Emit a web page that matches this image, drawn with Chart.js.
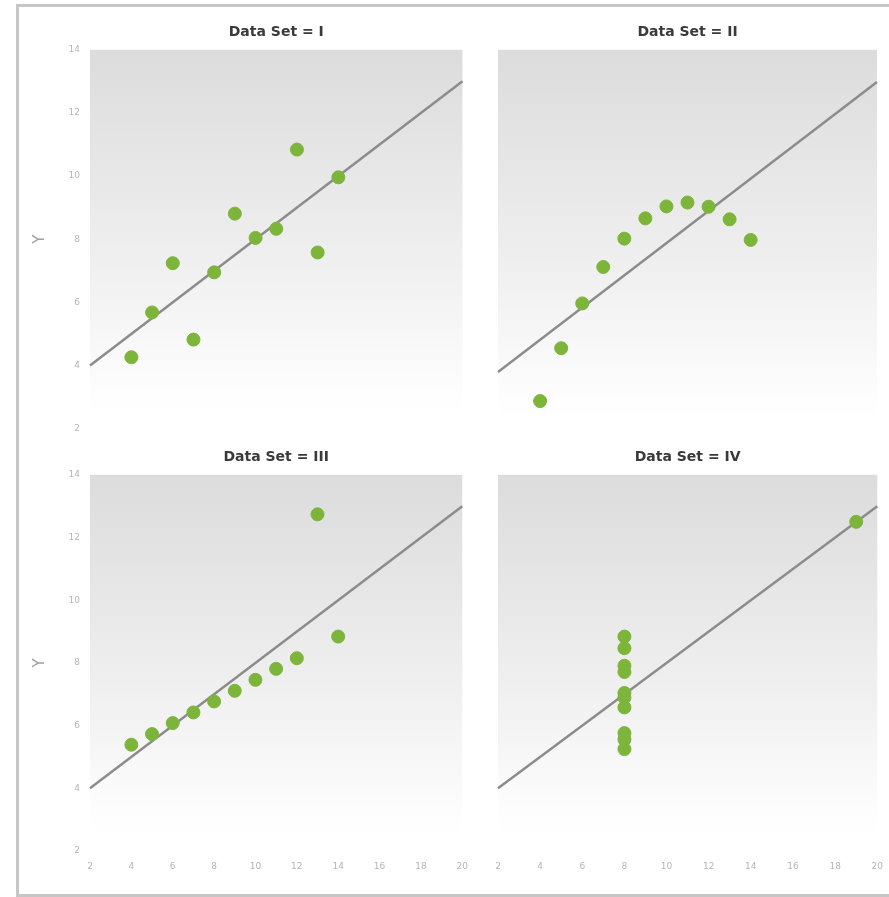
<!DOCTYPE html>
<html lang="en">
<head>
<meta charset="utf-8">
<title>Anscombe's Quartet</title>
<script src="https://cdn.jsdelivr.net/npm/chart.js"></script>
<style>
  html, body { margin: 0; padding: 0; background: #fff; overflow: hidden; }
  #page { position: relative; width: 889px; height: 897px; }
  #frame { position: absolute; left: 16px; top: 4px; width: 900px; height: 887px; border: 3px solid #c6c6c6; }
  .panel { position: absolute; }
</style>
</head>
<body>
<div id="page">
  <div id="frame"></div>
  <div class="panel" style="left:20px;top:15px;width:450px;height:429px"><canvas id="c1"></canvas></div>
  <div class="panel" style="left:475px;top:15px;width:410px;height:429px"><canvas id="c2"></canvas></div>
  <div class="panel" style="left:20px;top:440px;width:458px;height:445px"><canvas id="c3"></canvas></div>
  <div class="panel" style="left:475px;top:440px;width:418px;height:445px"><canvas id="c4"></canvas></div>
</div>

<script>
// Anscombe's quartet
var x123 = [10, 8, 13, 9, 11, 14, 6, 4, 12, 7, 5];
var y1 = [8.04, 6.95, 7.58, 8.81, 8.33, 9.96, 7.24, 4.26, 10.84, 4.82, 5.68];
var y2 = [9.14, 8.14, 8.74, 8.77, 9.26, 8.10, 6.13, 3.10, 9.13, 7.26, 4.74];
var y3 = [7.46, 6.77, 12.74, 7.11, 7.81, 8.84, 6.08, 5.39, 8.15, 6.42, 5.73];
var x4 = [8, 8, 8, 8, 8, 8, 8, 19, 8, 8, 8];
var y4 = [6.58, 5.76, 7.71, 8.84, 8.47, 7.04, 5.25, 12.50, 5.56, 7.91, 6.89];

// fit line endpoints (same for all four sets)
var fitX = [2, 20];
var fitY = [4, 13];

var titles = ['Data Set = I', 'Data Set = II', 'Data Set = III', 'Data Set = IV'];
var xTicks = [2, 4, 6, 8, 10, 12, 14, 16, 18, 20];
var yTicks = [2, 4, 6, 8, 10, 12, 14];

function pairs(xs, ys) {
  return xs.map(function (x, i) { return { x: x, y: ys[i] }; });
}

// grey-to-white panel background
const panelBg = {
  id: 'panelBg',
  beforeDraw(chart) {
    const a = chart.chartArea;
    const ctx = chart.ctx;
    const g = ctx.createLinearGradient(0, a.top, 0, a.bottom);
    g.addColorStop(0, '#dcdcdc');
    g.addColorStop(0.55, '#efefef');
    g.addColorStop(0.95, '#ffffff');
    ctx.save();
    ctx.fillStyle = g;
    ctx.fillRect(a.left, a.top, a.right - a.left, a.bottom - a.top);
    ctx.restore();
  }
};

function makeChart(id, idx, xs, ys, showX, showY) {
  const ctx = document.getElementById(id);
  return new Chart(ctx, {
    type: 'scatter',
    data: {
      datasets: [
        {
          data: pairs(xs, ys),
          backgroundColor: '#7db53a',
          borderColor: '#7db53a',
          pointRadius: 6.5,
          pointHoverRadius: 6.5,
          clip: false,
          order: 1
        },
        {
          type: 'line',
          data: pairs(fitX, fitY),
          borderColor: '#8c8c8c',
          borderWidth: 2.5,
          pointRadius: 0,
          showLine: true,
          clip: false,
          order: 2
        }
      ]
    },
    options: {
      responsive: true,
      maintainAspectRatio: false,
      animation: false,
      events: [],
      layout: {
        padding: {
          left: showY ? 0 : 23,
          right: showX ? 0 : (showY ? 7 : 8),
          top: 0,
          bottom: showX ? 4 : 0
        }
      },
      plugins: {
        legend: { display: false },
        tooltip: { enabled: false },
        title: {
          display: true,
          text: titles[idx],
          fullSize: false,
          color: '#3a3a3a',
          font: { family: 'DejaVu Sans', size: 14, weight: 'bold' },
          padding: { top: 9, bottom: 9 }
        }
      },
      scales: {
        x: {
          type: 'linear',
          min: 2, max: 20,
          display: showX,
          grid: { display: false, drawTicks: false },
          border: { display: false },
          afterBuildTicks(s) { s.ticks = xTicks.map(v => ({ value: v })); },
          afterFit(s) { if (showX) s.height = 30; },
          ticks: {
            padding: 10,
            color: '#b5b5b5',
            font: { family: 'DejaVu Sans', size: 9 }
          }
        },
        y: {
          type: 'linear',
          min: 2, max: 14,
          display: showY,
          grid: { display: false, drawTicks: false },
          border: { display: false },
          afterBuildTicks(s) { s.ticks = yTicks.map(v => ({ value: v })); },
          afterFit(s) { if (showY) s.width = 70; },
          title: {
            display: true,
            text: 'Y',
            color: '#a0a0a0',
            font: { family: 'DejaVu Sans', size: 15 },
            padding: { top: 11, bottom: 0 }
          },
          ticks: {
            padding: 10,
            color: '#b5b5b5',
            font: { family: 'DejaVu Sans', size: 9 }
          }
        }
      }
    },
    plugins: [panelBg]
  });
}

makeChart('c1', 0, x123, y1, false, true);
makeChart('c2', 1, x123, y2, false, false);
makeChart('c3', 2, x123, y3, true, true);
makeChart('c4', 3, x4, y4, true, false);
</script>
</body>
</html>
